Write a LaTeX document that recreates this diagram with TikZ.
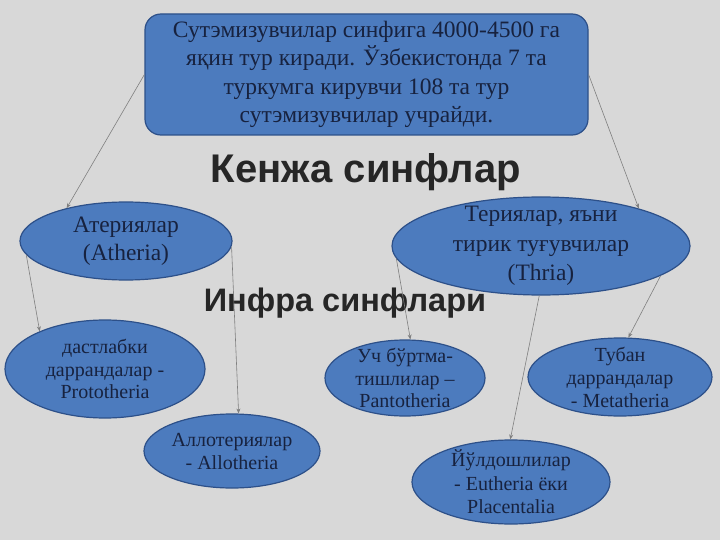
\documentclass[tikz,border=0pt]{standalone}
\usepackage{fontspec}
\setmainfont{Liberation Serif}
\newfontfamily\headfont{Liberation Sans}
\usepackage{xcolor}
\usetikzlibrary{shapes.geometric,arrows.meta}
\definecolor{bgcol}{HTML}{D8D8D8}
\definecolor{blobfill}{HTML}{4C7BBE}
\definecolor{blobline}{HTML}{2D5089}
\definecolor{inktxt}{HTML}{17223F}
\definecolor{linkcol}{HTML}{7F7F7F}

\begin{document}
\begin{tikzpicture}[x=1pt,y=-1pt,
  blob/.style={ellipse,draw=blobline,line width=1.2pt,fill=blobfill,
    text=inktxt,align=center,inner xsep=0pt,inner ysep=-12pt},
  bigbox/.style={rectangle,rounded corners=16pt,draw=blobline,line width=1.2pt,
    fill=blobfill,text=inktxt,align=center,minimum width=443pt,minimum height=121pt},
  heading/.style={text=black!85},
  link/.style={draw=linkcol,line width=0.6pt,-{Stealth[length=5pt,width=4pt]}}]
\fill [bgcol] (0,0) rectangle (720,540);
\useasboundingbox (0,0) rectangle (720,540);

\node [bigbox,font=\fontsize{23.5}{28.5}\selectfont] (sut) at (366.5,74.5)
  {Сутэмизувчилар синфига 4000-4500 га\\ яқин тур киради. Ўзбекистонда 7 та\\
   туркумга кирувчи 108 та тур\\ сутэмизувчилар учрайди.};

\node [blob,minimum width=212pt,minimum height=78pt,font=\fontsize{23.5}{28}\selectfont] (ath) at (126,241)
  {Атериялар\\ (Atheria)};
\node [blob,minimum width=298pt,minimum height=98pt,font=\fontsize{23.5}{29.5}\selectfont] (ther) at (541,246)
  {Териялар, яъни\\ тирик туғувчилар\\ (Thria)};

\node [blob,minimum width=200pt,minimum height=98pt,font=\fontsize{20}{22.5}\selectfont] (proto) at (105,369)
  {дастлабки\\ даррандалар -\\ Prototheria};
\node [blob,minimum width=176pt,minimum height=74pt,font=\fontsize{20}{23}\selectfont] (allo) at (232,451)
  {Аллотериялар\\ - Allotheria};
\node [blob,minimum width=160pt,minimum height=76pt,font=\fontsize{20}{22.5}\selectfont] (panto) at (405,378)
  {Уч бўртма-\\ тишлилар –\\ Pantotheria};
\node [blob,minimum width=184pt,minimum height=78pt,font=\fontsize{20}{23}\selectfont] (meta) at (620,377)
  {Тубан\\ даррандалар\\ - Metatheria};
\node [blob,minimum width=198pt,minimum height=84pt,font=\fontsize{20}{23.5}\selectfont] (euth) at (511,482)
  {Йўлдошлилар\\ - Eutheria ёки\\ Placentalia};

\node [heading,font=\headfont\bfseries\fontsize{40}{44}\selectfont] (kenja) at (366,172) {Кенжа синфлар};
\node [heading,font=\headfont\bfseries\fontsize{32.5}{36}\selectfont] (infra) at (345,303) {Инфра синфлари};

\draw [link] (sut.west) -- (ath.151);
\draw [link] (sut.east) -- (ther.21);
\draw [link] (ath.188) -- (proto.150);
\draw [link] (ath.357) -- (allo.80);
\draw [link] (ther.185) -- (panto.82);
\draw [link] (ther.268) -- (euth.91);
\draw [link] (ther.346) -- (meta.78);
\end{tikzpicture}
\end{document}
